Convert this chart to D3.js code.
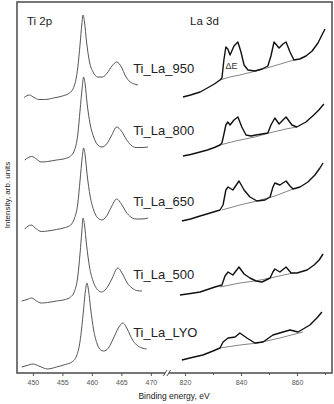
<!DOCTYPE html>
<html>
<head>
<meta charset="utf-8">
<script src="https://cdn.jsdelivr.net/npm/d3@7"></script>
<style>
  body { margin: 0; background: #fff; }
  svg { display: block; font-family: "Liberation Sans", Arial, sans-serif; }
</style>
</head>
<body>
<svg id="chart"></svg>
<script>
// sample names, top to bottom
var samples = ["Ti_La_950", "Ti_La_800", "Ti_La_650", "Ti_La_500", "Ti_La_LYO"];

// Ti 2p spectra, [binding energy eV, intensity arb. units] (stacked)
var ti950 = [[448.5,275.5],[449.4,278],[450.2,275.5],[451.0,273.5],[452.0,273.5],[453.5,275],[455.0,277],[456.2,280],[457.0,287],[457.6,305],[458.0,329],[458.3,349],[458.5,358],[458.75,351],[459.1,331],[459.6,311],[460.2,301],[461.0,296],[461.8,296],[462.6,300],[463.4,307],[464.2,311],[465.0,306],[465.7,297],[466.5,291],[467.2,289],[467.8,288]];
var ti800 = [[448.6,213],[449.8,216.5],[450.6,214],[451.4,211],[452.5,211.5],[454.0,213],[455.5,214.5],[456.4,217],[457.0,222],[457.6,238],[458.0,263],[458.35,285],[458.6,296],[458.85,289],[459.2,269],[459.7,249],[460.3,236],[461.0,228],[461.7,226],[462.5,229],[463.3,237],[464.2,246],[465.0,242],[465.8,234],[466.6,228],[467.5,225.5],[468.5,225.5],[469.5,226]];
var ti650 = [[448.6,144],[449.7,148],[450.6,144],[451.4,141.5],[452.5,142],[454.0,143.5],[455.5,145.5],[456.4,148],[457.0,154],[457.6,169],[458.0,193],[458.35,215],[458.6,225],[458.85,218],[459.2,198],[459.7,177],[460.3,163],[461.0,155],[461.7,153],[462.5,157],[463.3,166],[464.2,174],[465.0,169],[465.8,161],[466.6,156],[467.5,154],[468.5,154],[469.5,155]];
var ti500 = [[448.1,72],[449.0,73.5],[449.8,75],[450.6,72],[451.4,70],[452.5,70.5],[454.0,72],[455.5,73.5],[456.4,76],[457.0,81],[457.6,96],[458.0,120],[458.3,142],[458.5,155],[458.75,148],[459.1,128],[459.6,106],[460.2,92],[461.0,83],[461.6,81],[462.4,84],[463.3,93],[464.4,105],[465.2,99],[466.0,90],[466.8,85],[467.6,82.5],[468.5,82]];
var tiLyo = [[448.1,6],[449.0,7.5],[450.0,9],[451.0,7],[452.5,4],[454.0,6],[455.5,8.5],[456.6,11],[457.4,17],[458.0,32],[458.5,58],[458.9,82],[459.15,90],[459.4,84],[459.8,64],[460.3,43],[460.9,29],[461.5,23],[462.0,22],[462.8,25],[463.6,34],[464.5,45],[465.25,50],[466.0,44],[466.8,34],[467.6,28],[468.5,25],[469.3,24]];

// La 3d spectra
var la950 = [[819.3,276],[822,278],[825.4,281],[828,285],[830.5,289],[832.5,293],[833.2,295],[833.9,313],[834.6,326],[835.3,324],[836.1,318],[837.5,327],[838.9,331],[840.0,321],[841.1,308],[842.5,303],[845.0,302],[847.5,304],[849.6,307],[850.7,317],[851.8,331],[852.7,328],[853.6,325],[855.0,329],[856.1,331],[857.5,321],[858.9,313],[861.0,314],[863.2,317],[865.4,322],[867.5,330],[868.9,338],[870.0,344]];
var la800 = [[819.3,217],[822,218.5],[825.4,221],[828,223],[830.5,225.5],[832.5,228],[833.2,230],[834,240],[834.6,248],[835.3,251],[836.1,248],[837.5,253],[838.9,256],[840.3,246],[841.8,238],[843.6,237],[845.3,238],[847.5,239],[849.6,240],[850.7,248],[852.1,255],[853.6,249],[855,253],[856.1,256],[858.2,248],[859.9,246],[863.2,251],[866,258],[867.8,263],[869.6,269]];
var la650 = [[818.9,152],[822,154],[825.4,157],[829,160],[832.5,163],[833.6,168],[834.6,183],[835.4,186],[837.1,183],[839.3,192],[841.1,183],[843.2,176],[845.7,172],[848.6,173],[850.4,176],[851.4,186],[852.1,190],[853.9,188],[856.1,192],[857.5,187],[858.6,184],[861.1,186],[863.9,191],[866.4,198],[868.2,205],[869.3,210]];
var la500 = [[818.2,78],[822,79.5],[825.4,81],[830.7,86],[833.2,88],[834.3,97],[835.4,101],[837.1,98],[839.3,106],[841.1,99],[843.2,95],[845.4,92],[847.5,91],[850.4,95],[851.4,101],[852.1,104],[853.9,101],[856.1,106],[857.9,100],[860,100],[863.6,103],[866.1,108],[867.9,113],[869.3,119]];
var laLyo = [[818.9,13],[822.5,15.5],[826.4,18],[830,22],[832.5,25],[833.6,31],[835.4,35],[837.9,36],[839.6,40],[842.1,35],[845,30],[847.9,31],[851.4,38],[855,41],[857.5,43],[860.4,41],[864.6,48],[867.1,55],[868.9,61]];

// background lines under the La 3d peaks
var bg950 = [[832.5,293],[836,296],[839.6,298],[846.8,303],[852.9,308],[858.9,313]];
var bg800 = [[832.5,228],[838,232],[845,236],[850,240],[856,244],[859.9,246]];
var bg650 = [[833.2,163],[839.6,168],[845.7,172],[852.1,177],[858.6,184]];
var bg500 = [[832.5,86],[839.6,90],[845,92],[850.4,95],[858.6,100]];
var bgLyo = [[832.5,25],[839.6,28],[846,30],[853.9,35],[862.1,41]];

var tiTicks = [450, 455, 460, 465, 470];
var laTicks = [820, 840, 860];
var laMinor = [830, 850, 870];

var tiSpectra = [ti950, ti800, ti650, ti500, tiLyo];
var laSpectra = [la950, la800, la650, la500, laLyo];
var bgSpectra = [bg950, bg800, bg650, bg500, bgLyo];

var W = 334, H = 404;
var padL = 17, padR = 332, padT = 2, padB = 373, breakX = 167;

var svg = d3.select("#chart").attr("width", W).attr("height", H);

var xTi = d3.scaleLinear().domain([447.3, 472.4]).range([padL, 165]);
var xLa = d3.scaleLinear().domain([814.3, 872.5]).range([169, padR]);
var y = d3.scaleLinear().domain([0, 371]).range([padB, padT]);

var tiLine = d3.line()
  .x(function(d){ return xTi(d[0]); })
  .y(function(d){ return y(d[1]); })
  .curve(d3.curveMonotoneX);

var laLine = d3.line()
  .x(function(d){ return xLa(d[0]); })
  .y(function(d){ return y(d[1]); })
  .curve(d3.curveLinear);

// frame
svg.append("rect")
  .attr("x", padL).attr("y", padT)
  .attr("width", padR - padL).attr("height", padB - padT)
  .attr("fill", "none").attr("stroke", "#555").attr("stroke-width", 1.6);

// Ti 2p curves
svg.selectAll("path.ti")
  .data(tiSpectra)
  .enter().append("path")
  .attr("class", "ti")
  .attr("d", tiLine)
  .attr("fill", "none")
  .attr("stroke", "#555")
  .attr("stroke-width", 1);

// La 3d backgrounds then spectra
svg.selectAll("path.bg")
  .data(bgSpectra)
  .enter().append("path")
  .attr("class", "bg")
  .attr("d", laLine)
  .attr("fill", "none")
  .attr("stroke", "#666")
  .attr("stroke-width", 0.8);

svg.selectAll("path.la")
  .data(laSpectra)
  .enter().append("path")
  .attr("class", "la")
  .attr("d", laLine)
  .attr("fill", "none")
  .attr("stroke", "#111")
  .attr("stroke-width", 1.4)
  .attr("stroke-linejoin", "round");

// sample labels, above the Ti tail
svg.selectAll("text.sample")
  .data(samples)
  .enter().append("text")
  .attr("class", "sample")
  .attr("x", xTi(467.0))
  .attr("y", function(d, i){
    var s = tiSpectra[i];
    return y(s[s.length - 1][1]) - 12;
  })
  .attr("font-size", 13)
  .attr("fill", "#222")
  .text(function(d){ return d; });

svg.append("text").attr("x", 27).attr("y", 25)
  .attr("font-size", 11.5).attr("fill", "#222").text("Ti 2p");
svg.append("text").attr("x", 190).attr("y", 25)
  .attr("font-size", 11.5).attr("fill", "#222").text("La 3d");
svg.append("text").attr("x", xLa(834.5)).attr("y", 69)
  .attr("font-size", 9).attr("fill", "#333").text("ΔE");

// bottom axes
var axTi = d3.axisBottom(xTi).tickValues(tiTicks).tickSize(3).tickFormat(d3.format("d"));
var axLa = d3.axisBottom(xLa).tickValues(laTicks).tickSize(3).tickFormat(d3.format("d"));

var gTi = svg.append("g").attr("transform", "translate(0," + padB + ")").call(axTi);
var gLa = svg.append("g").attr("transform", "translate(0," + padB + ")").call(axLa);
svg.append("g").attr("transform", "translate(0," + padB + ")")
  .call(d3.axisBottom(xLa).tickValues(laMinor).tickSize(2).tickFormat(""))
  .select(".domain").remove();

[gTi, gLa].forEach(function(g){
  g.select(".domain").remove();
  g.selectAll(".tick text")
    .attr("font-size", 7)
    .attr("fill", "#555")
    .attr("dy", "0.9em")
    .attr("font-family", "Liberation Sans, Arial, sans-serif");
});
svg.selectAll(".tick line").attr("stroke", "#555");

// axis break marks
svg.append("rect").attr("x", breakX - 2).attr("y", padB - 3)
  .attr("width", 4).attr("height", 6).attr("fill", "#fff");
[-1.8, 1.8].forEach(function(o){
  svg.append("line")
    .attr("x1", breakX + o - 1.8).attr("y1", padB + 3)
    .attr("x2", breakX + o + 1.8).attr("y2", padB - 3)
    .attr("stroke", "#444").attr("stroke-width", 0.9);
});

// axis titles
svg.append("text")
  .attr("x", 174).attr("y", 399)
  .attr("text-anchor", "middle")
  .attr("font-size", 8.5).attr("fill", "#222")
  .text("Binding energy, eV");

svg.append("text")
  .attr("transform", "translate(10,195) rotate(-90)")
  .attr("text-anchor", "middle")
  .attr("font-size", 8).attr("fill", "#222")
  .text("Intensity, arb. units");
</script>
</body>
</html>
